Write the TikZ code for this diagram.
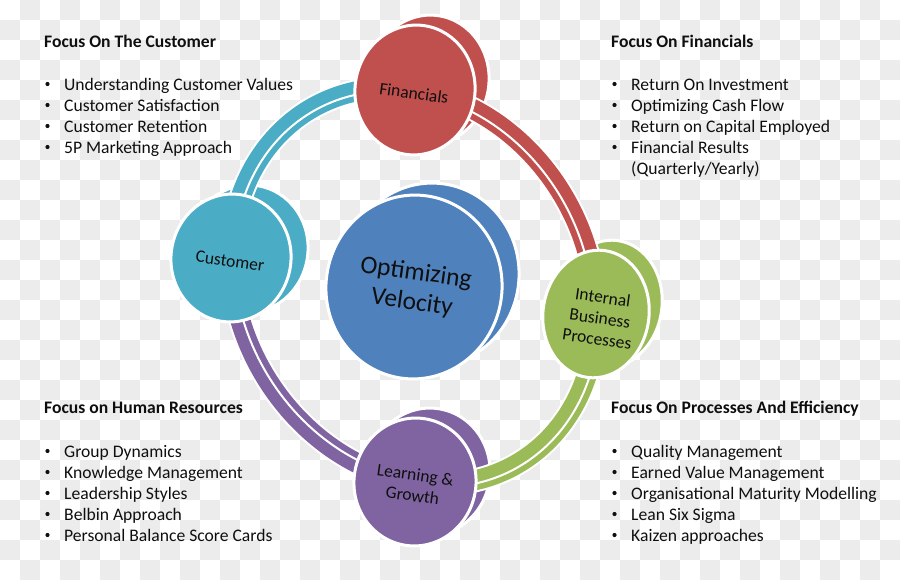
\documentclass[tikz,border=0pt]{standalone}
\usepackage{fontspec}
\setmainfont{Carlito}
\usetikzlibrary{shapes.geometric,calc}
\definecolor{cred}{HTML}{C0504D}
\definecolor{cteal}{HTML}{4BACC6}
\definecolor{cgreen}{HTML}{9BBB59}
\definecolor{cpurple}{HTML}{8064A2}
\definecolor{cblue}{HTML}{4F81BD}
\definecolor{chk}{RGB}{236,236,236}
\definecolor{txt}{RGB}{15,15,15}
\newcommand\ringband[4]{%
  \path (#1.center) coordinate (bA) (#2.center) coordinate (bB);
  \coordinate (bP) at ($(bA)+0.5523*(bB)-0.5523*(rc)$);
  \coordinate (bQ) at ($(bB)+0.5523*(bA)-0.5523*(rc)$);
  \draw[white, line width=24pt] (bA) .. controls (bP) and (bQ) .. (bB);
  \draw[#3, line width=20pt] (bA) .. controls (bP) and (bQ) .. (bB);
  \draw[white, line width=2pt] ($(rc)!#4!(bA)$) .. controls ($(rc)!#4!(bP)$) and ($(rc)!#4!(bQ)$) .. ($(rc)!#4!(bB)$);
}
\begin{document}
\begin{tikzpicture}[x=1pt,y=-1pt,
  hd/.style={anchor=base west, inner sep=0pt, font=\fontsize{17.6}{21}\selectfont\bfseries, text=txt},
  itm/.style={anchor=base west, inner sep=0pt, font=\fontsize{17.6}{21}\selectfont, text=txt},
  bul/.style={circle, fill=txt, inner sep=0pt, minimum size=4.2pt},
  front/.style={ellipse, draw=white, line width=3pt, inner sep=0pt, rotate=-8},
  back/.style={ellipse, draw=white, line width=3pt, inner sep=0pt, rotate=-8},
  lbl/.style={inner sep=0pt, align=center, font=\fontsize{17.5}{21}\selectfont, text=txt, rotate=-8},
]
\useasboundingbox (0,0) rectangle (900,580);
\fill[white] (0,0) rectangle (900,580);
\foreach \i in {0,...,44}{\foreach \j in {0,...,28}{%
  \pgfmathtruncatemacro\pp{mod(\i+\j,2)}%
  \ifnum\pp=1 \fill[chk] (20*\i,20*\j) rectangle ++(20,20);\fi}}

\coordinate (rc) at (414,286);

% back discs
\node[back, fill=cred, minimum width=120pt, minimum height=130pt] (finb) at (429,80) {};
\node[back, fill=cteal, minimum width=120pt, minimum height=128pt] (cusb) at (248,249) {};
\node[back, fill=cblue, minimum width=176pt, minimum height=184pt] (velb) at (431,275) {};
\node[back, fill=cgreen, minimum width=106pt, minimum height=128pt] (intb) at (609,304) {};
\node[back, fill=cpurple, minimum width=122pt, minimum height=128pt] (leab) at (429,472) {};

% ring points (disc centres)
\coordinate (finc) at (415,90);
\coordinate (intc) at (596,314);
\coordinate (leac) at (415,482);
\coordinate (cusc) at (231,258);

\ringband{cusc}{finc}{cteal}{0.984}
\ringband{finc}{intc}{cred}{0.984}
\ringband{intc}{leac}{cgreen}{1.016}
\ringband{leac}{cusc}{cpurple}{0.984}

% front discs
\node[front, fill=cred, minimum width=120pt, minimum height=130pt] (fin) at (finc) {};
\node[front, fill=cteal, minimum width=120pt, minimum height=128pt] (cus) at (cusc) {};
\node[front, fill=cblue, minimum width=176pt, minimum height=184pt] (vel) at (414,287) {};
\node[front, fill=cgreen, minimum width=106pt, minimum height=128pt] (int) at (intc) {};
\node[front, fill=cpurple, minimum width=122pt, minimum height=128pt] (lea) at (leac) {};

% disc labels
\node[lbl] (finl) at (414,93) {Financials};
\node[lbl] (cusl) at (230,261) {Customer};
\node[lbl, font=\fontsize{25.5}{30}\selectfont] (vell) at (414,288) {Optimizing\\Velocity};
\node[lbl] (intl) at (600,318) {Internal\\Business\\Processes};
\node[lbl] (leal) at (414,485) {Learning \&\\Growth};

% text blocks
\node[hd] (h1) at (44,47.5) {Focus On The Customer};
\foreach \t [count=\i from 0] in {Understanding Customer Values,Customer Satisfaction,Customer Retention,5P Marketing Approach}{
  \node[bul] (b1-\i) at (47.5,84+21*\i) {};
  \node[itm] (t1-\i) at (64,90.5+21*\i) {\t};
}
\node[hd] (h2) at (611,47.5) {Focus On Financials};
\foreach \t [count=\i from 0] in {Return On Investment,Optimizing Cash Flow,Return on Capital Employed,Financial Results}{
  \node[bul] (b2-\i) at (614.5,84+21*\i) {};
  \node[itm] (t2-\i) at (631,90.5+21*\i) {\t};
}
\node[itm] (t2-4) at (631,174.5) {(Quarterly/Yearly)};
\node[hd] (h3) at (44,413.5) {Focus on Human Resources};
\foreach \t [count=\i from 0] in {Group Dynamics,Knowledge Management,Leadership Styles,Belbin Approach,Personal Balance Score Cards}{
  \node[bul] (b3-\i) at (47.5,451+21*\i) {};
  \node[itm] (t3-\i) at (64,457.5+21*\i) {\t};
}
\node[hd] (h4) at (611,413.5) {Focus On Processes And Efficiency};
\foreach \t [count=\i from 0] in {Quality Management,Earned Value Management,Organisational Maturity Modelling,Lean Six Sigma,Kaizen approaches}{
  \node[bul] (b4-\i) at (614.5,451+21*\i) {};
  \node[itm] (t4-\i) at (631,457.5+21*\i) {\t};
}
\end{tikzpicture}
\end{document}
